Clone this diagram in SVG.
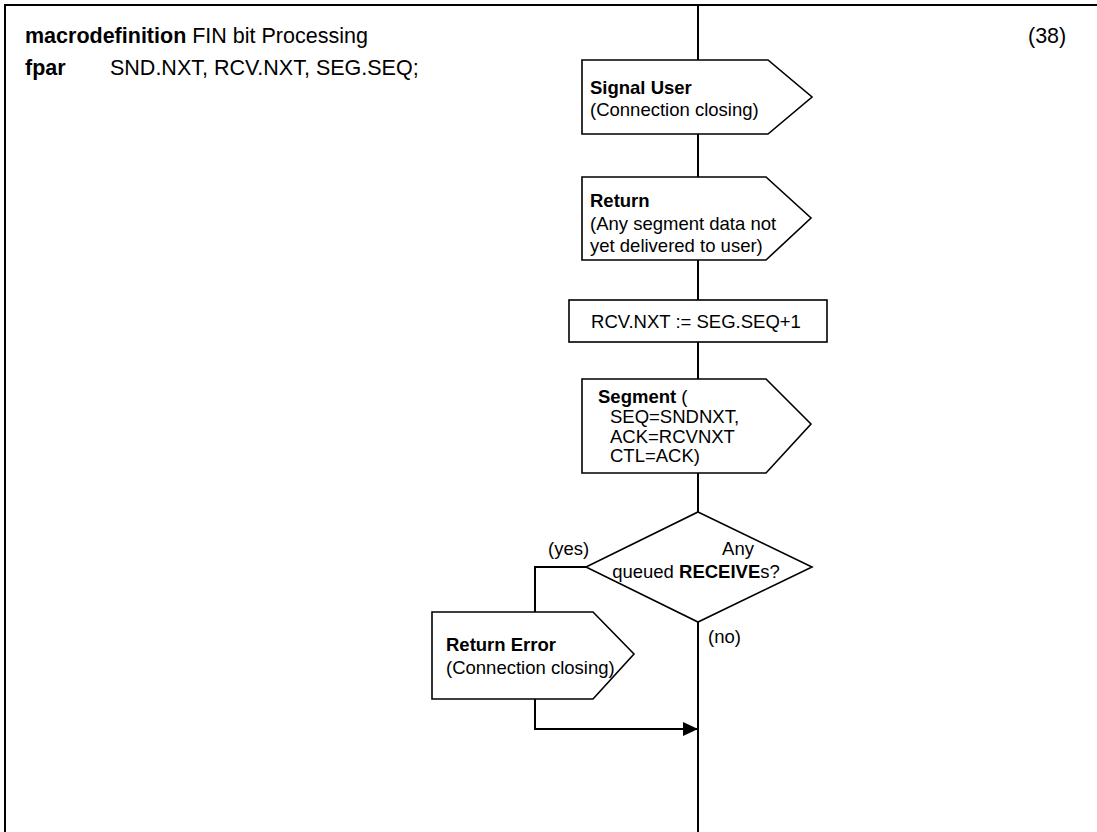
<svg xmlns="http://www.w3.org/2000/svg" width="1097" height="832" viewBox="0 0 1097 832">
  <defs>
    <style>
      .frame { fill: none; stroke: #000; stroke-width: 2; }
      .box { fill: #fff; stroke: #000; stroke-width: 1.6; stroke-linejoin: miter; }
      .line { fill: none; stroke: #000; stroke-width: 2; }
      .t { font-family: "Liberation Sans", Arial, sans-serif; font-size: 18.5px; fill: #000; }
      .h { font-family: "Liberation Sans", Arial, sans-serif; font-size: 21.5px; fill: #000; }
      .b { font-weight: bold; }
    </style>
    <marker id="arrow" viewBox="0 0 15 14" refX="15" refY="7" markerWidth="15" markerHeight="14" markerUnits="userSpaceOnUse" orient="auto">
      <path d="M0,0 L15,7 L0,14 Z" fill="#000"/>
    </marker>
  </defs>

  <rect width="1097" height="832" fill="#fff"/>

  <!-- page frame -->
  <path class="frame" d="M5,833 V5 H1098"/>

  <!-- heading -->
  <g id="heading">
    <text class="h" x="25" y="43"><tspan class="b">macrodefinition</tspan> FIN bit Processing</text>
    <text class="h" x="25" y="75"><tspan class="b">fpar</tspan></text>
    <text class="h" x="110" y="75">SND.NXT, RCV.NXT, SEG.SEQ;</text>
    <text class="h" x="1028" y="43">(38)</text>
  </g>

  <!-- connectors -->
  <g id="connectors">
    <path class="line" d="M698,5 V60"/>
    <path class="line" d="M698,134 V177"/>
    <path class="line" d="M698,260 V300"/>
    <path class="line" d="M698,342 V379"/>
    <path class="line" d="M698,473 V512"/>
    <path class="line" d="M698,622 V833"/>
    <path class="line" d="M586,567 H535 V612"/>
    <path class="line" d="M535,699 V729 H698" marker-end="url(#arrow)"/>
    <text class="t" x="548" y="555">(yes)</text>
    <text class="t" x="708" y="643">(no)</text>
  </g>

  <!-- output: Signal User -->
  <g id="signal-user">
    <path class="box" d="M582,60 H768 L812,97 L768,134 H582 Z"/>
    <text class="t" x="590" y="94"><tspan class="b">Signal User</tspan></text>
    <text class="t" x="590" y="116">(Connection closing)</text>
  </g>

  <!-- output: Return -->
  <g id="return">
    <path class="box" d="M582,177 H766 L811,218 L766,260 H582 Z"/>
    <text class="t" x="590" y="207"><tspan class="b">Return</tspan></text>
    <text class="t" x="590" y="230">(Any segment data not</text>
    <text class="t" x="590" y="252">yet delivered to user)</text>
  </g>

  <!-- task: RCV.NXT update -->
  <g id="update-rcv">
    <rect class="box" x="569" y="300" width="258" height="42"/>
    <text class="t" x="696" y="328" text-anchor="middle">RCV.NXT := SEG.SEQ+1</text>
  </g>

  <!-- output: Segment -->
  <g id="segment">
    <path class="box" d="M582,379 H766 L811,424 L766,473 H582 Z"/>
    <text class="t" x="598" y="403"><tspan class="b">Segment</tspan> (</text>
    <text class="t" x="610" y="423">SEQ=SNDNXT,</text>
    <text class="t" x="610" y="443">ACK=RCVNXT</text>
    <text class="t" x="610" y="462">CTL=ACK)</text>
  </g>

  <!-- decision: queued RECEIVEs -->
  <g id="queued-receives">
    <path class="box" d="M698,512 L812,567 L698,622 L586,567 Z"/>
    <text class="t" x="738" y="555" text-anchor="middle">Any</text>
    <text class="t" x="696" y="578" text-anchor="middle">queued <tspan class="b">RECEIVE</tspan>s?</text>
  </g>

  <!-- output: Return Error -->
  <g id="return-error">
    <path class="box" d="M432,612 H593 L634,654 L593,699 H432 Z"/>
    <text class="t" x="446" y="651"><tspan class="b">Return Error</tspan></text>
    <text class="t" x="446" y="674">(Connection closing)</text>
  </g>
</svg>
